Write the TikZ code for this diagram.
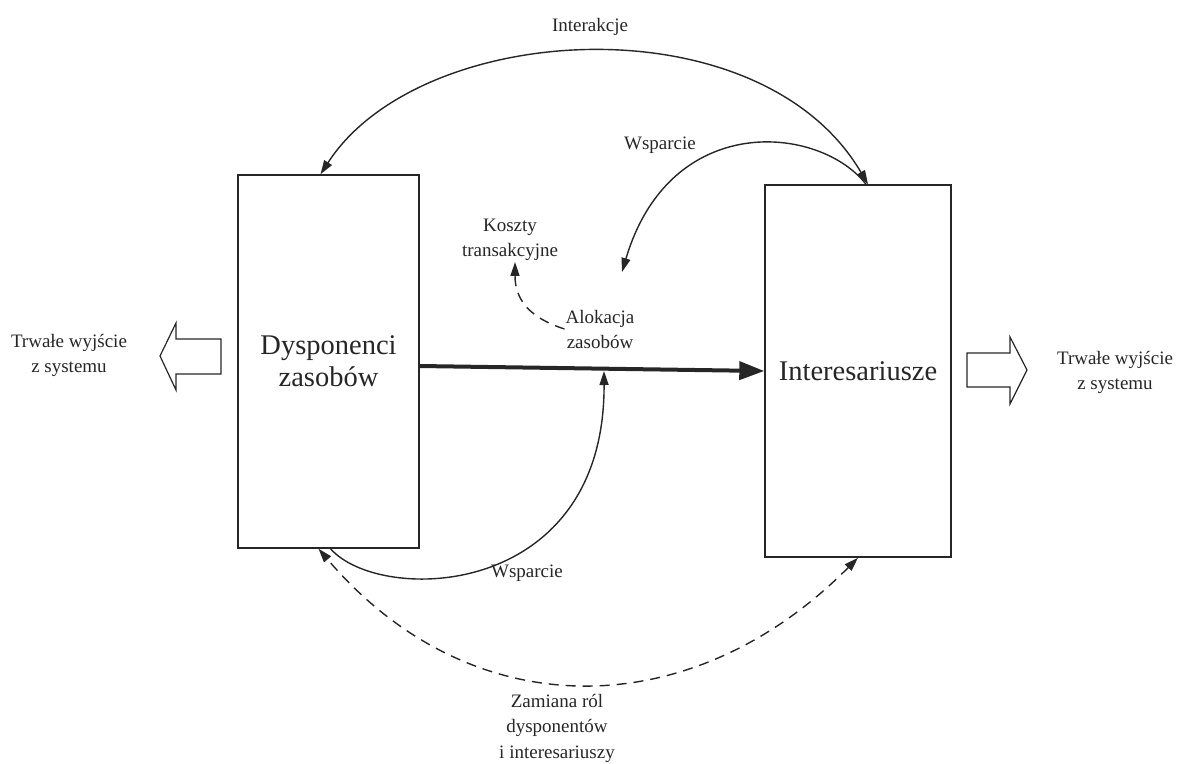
\documentclass[tikz,border=0pt]{standalone}
\usepackage{fontspec}
\setmainfont{Liberation Serif}
\usetikzlibrary{arrows.meta}
\definecolor{ink}{HTML}{262626}
\begin{document}
\begin{tikzpicture}[x=1pt,y=-1pt,
  box/.style={draw=ink, line width=1.4pt, inner sep=0pt, align=center, text=ink,
    font=\fontsize{28.5}{32}\selectfont},
  lbl/.style={font=\fontsize{19}{25}\selectfont, align=center, inner sep=1pt, text=ink},
  tip/.tip={Triangle[length=14pt,width=9pt]},
  con/.style={draw=ink, fill=none, line width=1.4pt, -tip},
  dcon/.style={draw=ink, line width=1.4pt, tip-tip},
  dsh/.style={dash pattern=on 10pt off 7pt},
  hollow/.style={draw=ink, line width=1.2pt, line join=miter}
]
\useasboundingbox (0,0) rectangle (1182,763);

% boxes
\node[box, minimum width=181pt, minimum height=373pt] (L) at (328.5,361.5) {Dysponenci\\zasobów};
\node[box, minimum width=186pt, minimum height=372pt] (R) at (858,371) {Interesariusze};

% labels
\node[lbl, anchor=base] (inter) at (590,31) {Interakcje};
\node[lbl, anchor=base] (wsp1) at (660,149) {Wsparcie};
\node[lbl] (Kosz) at (510,240) {Koszty\\transakcyjne};
\node[lbl] (Alok) at (600,329) {Alokacja\\zasobów};
\node[lbl, anchor=base] (wsp2) at (527,577) {Wsparcie};
\node[lbl, font=\fontsize{19}{25.5}\selectfont] (zam) at (557,728) {Zamiana ról\\dysponentów\\i interesariuszy};
\node[lbl] (outL) at (69,355) {Trwałe wyjście\\z systemu};
\node[lbl] (outR) at (1115,372) {Trwałe wyjście\\z systemu};

% free ends
\coordinate (wtip) at (622,272);
\coordinate (atip) at (604,371);

% main thick arrow
\draw[draw=ink, fill=ink, line width=4pt, -{Triangle[length=25pt,width=18pt]}] ([yshift=-4.5pt]L.east) -- (R.west);

% Interakcje
\draw[dcon] ([xshift=10pt]R.north) .. controls (760,0) and (420,20) .. ([xshift=-8pt]L.north);
% upper Wsparcie
\draw[con] ([xshift=8pt]R.north) .. controls (820,125) and (670,110) .. (wtip);
% Alokacja -> Koszty
\draw[con, dsh] (Alok.west) .. controls (530,318) and (515,300) .. ([xshift=5pt]Kosz.south);
% lower Wsparcie
\draw[con] ([xshift=2pt]L.south) .. controls (380,605) and (605,600) .. (atip);
% Zamiana rol
\draw[dcon, dsh] (R.south) .. controls (690,727) and (470,727) .. ([xshift=-10pt]L.south);

% hollow exit arrows
\draw[hollow] (221,339) -- (176,339) -- (176,323) -- (160,356) -- (176,390) -- (176,374) -- (221,374) -- cycle;
\draw[hollow] (967,353) -- (1010,353) -- (1010,337) -- (1027,370) -- (1010,404) -- (1010,387) -- (967,387) -- cycle;
\end{tikzpicture}
\end{document}
